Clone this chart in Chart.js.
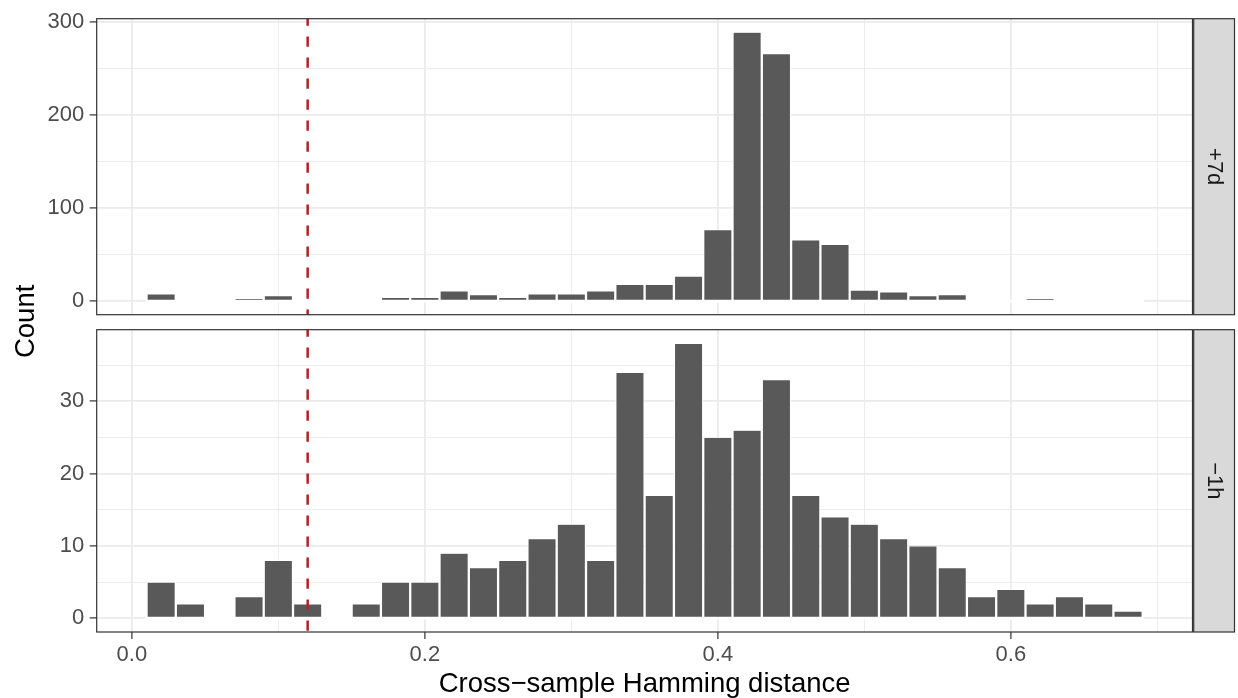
<!DOCTYPE html>
<html>
<head>
<meta charset="utf-8">
<script src="https://cdn.jsdelivr.net/npm/chart.js@4.4.1/dist/chart.umd.min.js"></script>
<style>
  html, body { margin: 0; padding: 0; background: #ffffff; }
  #wrap { position: relative; width: 1238px; height: 698px; overflow: hidden; background: #ffffff; }
  #wrap canvas { position: absolute; left: 0; top: 0; }
</style>
</head>
<body>
<div id="wrap">
  <canvas id="cTop" width="1238" height="698"></canvas>
  <canvas id="cBot" width="1238" height="698"></canvas>
</div>
<script>
// ---------------- data ----------------
const binCenters = [0.02, 0.04, 0.06, 0.08, 0.10, 0.12, 0.14, 0.16, 0.18, 0.20,
                    0.22, 0.24, 0.26, 0.28, 0.30, 0.32, 0.34, 0.36, 0.38, 0.40,
                    0.42, 0.44, 0.46, 0.48, 0.50, 0.52, 0.54, 0.56, 0.58, 0.60,
                    0.62, 0.64, 0.66, 0.68];
const binWidth = 0.02;
const countsPlus7d = [8, 0, 0, 3, 6, 0, 0, 0, 4, 4,
                      11, 7, 4, 8, 8, 11, 18, 18, 27, 77,
                      289, 266, 66, 61, 12, 10, 6, 7, 0, 0,
                      3, 0, 0, 0];
const countsMinus1h = [5, 2, 0, 3, 8, 2, 0, 2, 5, 5,
                       9, 7, 8, 11, 13, 8, 34, 17, 38, 25,
                       26, 33, 17, 14, 13, 11, 10, 7, 3, 4,
                       2, 3, 2, 1];
const facetLabels = ['+7d', '\u22121h'];
const thresholdX = [0.12];
const xTickValues = [0, 0.1, 0.2, 0.3, 0.4, 0.5, 0.6, 0.7];
const xTickLabels = ['0.0', '', '0.2', '', '0.4', '', '0.6', ''];
const yTicksTop = [0, 50, 100, 150, 200, 250, 300];
const yLabelsTop = ['0', '', '100', '', '200', '', '300'];
const yTicksBot = [0, 5, 10, 15, 20, 25, 30, 35];
const yLabelsBot = ['0', '', '10', '', '20', '', '30', ''];
const xAxisTitle = 'Cross\u2212sample Hamming distance';
const yAxisTitle = 'Count';

// ---------------- layout / style ----------------
const W = 1238, H = 698;
const FONT = '"Liberation Sans", Arial, Helvetica, sans-serif';
const panelLeft = 96.7, panelRight = 1192.5;
const panelTops = [12.7, 329.7], panelBottoms = [314.7, 632];
const stripLeft = 1193.7, stripRight = 1234.5;
const gridMajorW = 1.8, gridMinorW = 0.9;

Chart.defaults.font.family = FONT;

const xFirst = binCenters[0] - binWidth / 2;
const xLast = binCenters[binCenters.length - 1] + binWidth / 2;
const xExp = (xLast - xFirst) * 0.05;
const xMin = xFirst - xExp, xMax = xLast + xExp;

function makeChart(id, counts, yTicks, yLabels, idx, showX) {
  const maxC = Math.max(...counts);
  const yMin = -0.05 * maxC, yMax = 1.05 * maxC;
  const decor = {
    id: 'decor' + idx,
    beforeDatasetsDraw(chart) {
      const { ctx, scales: { x, y } } = chart;
      const x0 = x.getPixelForValue(xFirst), x1 = x.getPixelForValue(xLast);
      const y0 = y.getPixelForValue(0);
      ctx.save();
      ctx.strokeStyle = '#ffffff';
      ctx.lineWidth = 2.4;
      ctx.beginPath();
      ctx.moveTo(x0 - 1.1, y0);
      ctx.lineTo(x1 + 1.1, y0);
      ctx.stroke();
      ctx.restore();
    },
    afterDatasetsDraw(chart) {
      const { ctx, chartArea: a, scales: { x } } = chart;
      // threshold dashed line
      const xp = x.getPixelForValue(thresholdX[0]);
      ctx.save();
      ctx.beginPath();
      ctx.rect(a.left, a.top, a.right - a.left, a.bottom - a.top);
      ctx.clip();
      ctx.strokeStyle = '#B22222';
      ctx.lineWidth = 2.5;
      ctx.setLineDash([10.3, 10.7]);
      ctx.beginPath();
      ctx.moveTo(xp, a.top - 3.2);
      ctx.lineTo(xp, a.bottom + 2);
      ctx.stroke();
      ctx.restore();
      // panel border
      ctx.save();
      ctx.strokeStyle = '#333333';
      ctx.lineWidth = 1.2;
      ctx.strokeRect(a.left, a.top, a.right - a.left, a.bottom - a.top);
      // strip
      ctx.fillStyle = '#D9D9D9';
      ctx.fillRect(stripLeft, a.top, stripRight - stripLeft, a.bottom - a.top);
      ctx.strokeRect(stripLeft, a.top, stripRight - stripLeft, a.bottom - a.top);
      ctx.translate((stripLeft + stripRight) / 2, (a.top + a.bottom) / 2);
      ctx.rotate(Math.PI / 2);
      ctx.fillStyle = '#1A1A1A';
      ctx.font = '22px ' + FONT;
      ctx.textAlign = 'center';
      ctx.textBaseline = 'middle';
      ctx.fillText(facetLabels[idx], 0, 0);
      ctx.restore();
      if (showX) {
        ctx.save();
        ctx.fillStyle = '#000000';
        ctx.font = '27.5px ' + FONT;
        ctx.textAlign = 'center';
        ctx.textBaseline = 'alphabetic';
        ctx.fillText(xAxisTitle, (a.left + a.right) / 2, 691.7);
        ctx.translate(33.5, (panelTops[0] + panelBottoms[1]) / 2 - 1);
        ctx.rotate(-Math.PI / 2);
        ctx.fillText(yAxisTitle, 0, 0);
        ctx.restore();
      }
    }
  };

  return new Chart(document.getElementById(id), {
    type: 'bar',
    data: {
      datasets: [{
        data: binCenters.map((c, i) => ({ x: c, y: counts[i] })),
        backgroundColor: '#595959',
        borderColor: '#ffffff',
        borderWidth: { left: 1.15, right: 1.15, top: 0.6, bottom: 0.6 },
        borderSkipped: false,
        inflateAmount: 0,
        barPercentage: 1,
        categoryPercentage: 1,
        grouped: false
      }]
    },
    options: {
      responsive: false,
      devicePixelRatio: 1,
      animation: false,
      events: [],
      layout: {
        padding: {
          left: 0,
          top: panelTops[idx],
          right: W - panelRight,
          bottom: showX ? 0 : H - panelBottoms[idx]
        }
      },
      plugins: { legend: { display: false }, tooltip: { enabled: false }, title: { display: false } },
      scales: {
        x: {
          type: 'linear',
          min: xMin, max: xMax,
          offset: false,
          afterBuildTicks: s => { s.ticks = xTickValues.map(v => ({ value: v })); },
          afterFit: s => { s.height = showX ? H - panelBottoms[idx] : 0; },
          border: { display: false },
          grid: {
            offset: false,
            color: '#EBEBEB',
            lineWidth: c => (xTickLabels[c.index] ? gridMajorW : gridMinorW),
            drawTicks: showX,
            tickLength: 7,
            tickWidth: 1.2,
            tickColor: c => (xTickLabels[c.index] ? '#333333' : 'rgba(0,0,0,0)')
          },
          ticks: {
            display: showX,
            autoSkip: false,
            maxRotation: 0, minRotation: 0,
            padding: 2.5,
            color: '#4D4D4D',
            font: { family: FONT, size: 22 },
            callback: (v, i) => xTickLabels[i]
          }
        },
        y: {
          type: 'linear',
          min: yMin, max: yMax,
          afterBuildTicks: s => { s.ticks = yTicks.map(v => ({ value: v })); },
          afterFit: s => { s.width = panelLeft; },
          border: { display: false },
          grid: {
            color: '#EBEBEB',
            lineWidth: c => (yLabels[c.index] ? gridMajorW : gridMinorW),
            tickLength: 7,
            tickWidth: 1.2,
            tickColor: c => (yLabels[c.index] ? '#333333' : 'rgba(0,0,0,0)')
          },
          ticks: {
            autoSkip: false,
            padding: 5.5,
            color: '#4D4D4D',
            font: { family: FONT, size: 22 },
            callback: (v, i) => yLabels[i]
          }
        }
      }
    },
    plugins: [decor]
  });
}

makeChart('cTop', countsPlus7d, yTicksTop, yLabelsTop, 0, false);
makeChart('cBot', countsMinus1h, yTicksBot, yLabelsBot, 1, true);
</script>
</body>
</html>
